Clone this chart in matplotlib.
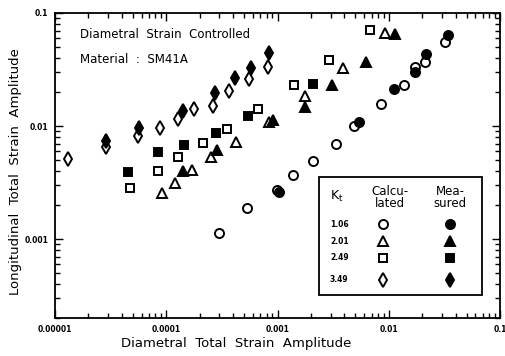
import matplotlib
matplotlib.use("Agg")
import matplotlib.pyplot as plt
from matplotlib.patches import Rectangle

# ---- data ----
kt_labels = ["1.06", "2.01", "2.49", "3.49"]

# Kt = 1.06 (circles)
c106_calc_x = [3.01e-4, 5.32e-4, 9.8e-4, 1.38e-3, 2.08e-3, 3.34e-3, 4.92e-3, 8.6e-3, 1.37e-2, 1.72e-2, 2.12e-2, 3.23e-2]
c106_calc_y = [1.13e-3, 1.88e-3, 2.72e-3, 3.68e-3, 4.90e-3, 6.93e-3, 1.0e-2, 1.57e-2, 2.32e-2, 3.30e-2, 3.65e-2, 5.51e-2]
c106_meas_x = [1.04e-3, 5.36e-3, 1.11e-2, 1.72e-2, 2.17e-2, 3.44e-2]
c106_meas_y = [2.61e-3, 1.09e-2, 2.14e-2, 3.03e-2, 4.31e-2, 6.37e-2]

# Kt = 2.01 (triangles)
c201_calc_x = [9.2e-5, 1.20e-4, 1.70e-4, 2.55e-4, 4.25e-4, 8.32e-4, 1.75e-3, 3.88e-3, 9.18e-3]
c201_calc_y = [2.55e-3, 3.13e-3, 4.08e-3, 5.3e-3, 7.22e-3, 1.09e-2, 1.85e-2, 3.23e-2, 6.63e-2]
c201_meas_x = [1.41e-4, 2.88e-4, 9.04e-4, 1.75e-3, 3.06e-3, 6.22e-3, 1.13e-2]
c201_meas_y = [4.0e-3, 6.14e-3, 1.13e-2, 1.48e-2, 2.32e-2, 3.65e-2, 6.49e-2]

# Kt = 2.49 (squares)
c249_calc_x = [4.76e-5, 8.5e-5, 1.28e-4, 2.12e-4, 3.54e-4, 6.65e-4, 1.41e-3, 2.93e-3, 6.79e-3]
c249_calc_y = [2.82e-3, 4.0e-3, 5.3e-3, 7.08e-3, 9.4e-3, 1.42e-2, 2.32e-2, 3.80e-2, 7.05e-2]
c249_meas_x = [4.49e-5, 8.5e-5, 1.44e-4, 2.82e-4, 5.43e-4, 2.08e-3]
c249_meas_y = [3.92e-3, 5.89e-3, 6.79e-3, 8.67e-3, 1.23e-2, 2.37e-2]

# Kt = 3.49 (diamonds)
c349_calc_x = [1.30e-5, 2.89e-5, 5.6e-5, 8.7e-5, 1.28e-4, 1.77e-4, 2.61e-4, 3.68e-4, 5.53e-4, 8.16e-4]
c349_calc_y = [5.1e-3, 6.5e-3, 8.2e-3, 9.6e-3, 1.155e-2, 1.42e-2, 1.51e-2, 2.05e-2, 2.63e-2, 3.30e-2]
c349_meas_x = [2.89e-5, 5.71e-5, 1.41e-4, 2.77e-4, 4.16e-4, 5.77e-4, 8.32e-4]
c349_meas_y = [7.37e-3, 9.6e-3, 1.36e-2, 1.97e-2, 2.68e-2, 3.23e-2, 4.40e-2]

x_ticks = [1e-5, 1e-4, 1e-3, 1e-2, 1e-1]
x_tick_labels = ["0.00001", "0.0001", "0.001", "0.01", "0.1"]
y_ticks = [1e-3, 1e-2, 1e-1]
y_tick_labels = ["0.001", "0.01", "0.1"]

series = [
    (c106_calc_x, c106_calc_y, c106_meas_x, c106_meas_y, "o", 6.5),
    (c201_calc_x, c201_calc_y, c201_meas_x, c201_meas_y, "^", 6.5),
    (c249_calc_x, c249_calc_y, c249_meas_x, c249_meas_y, "s", 6.2),
    (c349_calc_x, c349_calc_y, c349_meas_x, c349_meas_y, "d", 7.5),
]

fig = plt.figure(figsize=(5.06, 3.56), dpi=100)
ax = fig.add_axes([55/506, 38/356, 445/506, 305/356])
ax.set_xscale("log")
ax.set_yscale("log")
ax.set_xlim(1e-5, 1e-1)
ax.set_ylim(2e-4, 1e-1)

for cx, cy, mx, my, mk, ms in series:
    ax.plot(cx, cy, linestyle="none", marker=mk, markersize=ms,
            markerfacecolor="white", markeredgecolor="black", markeredgewidth=1.4, zorder=3)
    ax.plot(mx, my, linestyle="none", marker=mk, markersize=ms,
            markerfacecolor="black", markeredgecolor="black", markeredgewidth=1.4, zorder=4)

ax.set_xticks(x_ticks)
ax.set_xticklabels(x_tick_labels)
ax.set_yticks(y_ticks)
ax.set_yticklabels(y_tick_labels)
ax.tick_params(which="both", direction="in", top=True, right=True, width=1.0)
ax.tick_params(which="major", length=6, labelsize=5.5, pad=5)
ax.tick_params(which="minor", length=3.5)
for lab in ax.get_xticklabels() + ax.get_yticklabels():
    lab.set_fontweight("bold")
for s in ax.spines.values():
    s.set_linewidth(1.3)

ax.set_xlabel("Diametral  Total  Strain  Amplitude", fontsize=9.5)
ax.xaxis.set_label_coords(0.407, -0.062)
ax.set_ylabel("Longitudinal  Total  Strain  Amplitude", fontsize=9.5)
ax.yaxis.set_label_coords(-0.074, 0.48)

ax.text(0.056, 0.928, "Diametral  Strain  Controlled", transform=ax.transAxes,
        fontsize=8.5, va="center", ha="left")
ax.text(0.056, 0.846, "Material  :  SM41A", transform=ax.transAxes,
        fontsize=8.5, va="center", ha="left")

# ---- legend box (manual, like the original) ----
lx0, lx1, ly0, ly1 = 0.593, 0.960, 0.075, 0.462
ax.add_patch(Rectangle((lx0, ly0), lx1 - lx0, ly1 - ly0, transform=ax.transAxes,
                       fill=False, edgecolor="black", linewidth=1.3, zorder=5))
ax.text(0.634, 0.397, r"K$_\mathregular{t}$", transform=ax.transAxes, fontsize=9,
        ha="center", va="center")
ax.text(0.753, 0.395, "Calcu-\nlated", transform=ax.transAxes, fontsize=8.5,
        ha="center", va="center", linespacing=0.95)
ax.text(0.888, 0.395, "Mea-\nsured", transform=ax.transAxes, fontsize=8.5,
        ha="center", va="center", linespacing=0.95)
row_y = [0.308, 0.252, 0.197, 0.125]
for lab, ry, (cx, cy, mx, my, mk, ms) in zip(kt_labels, row_y, series):
    ax.text(0.618, ry, lab, transform=ax.transAxes, fontsize=5.5, fontweight="bold",
            ha="left", va="center")
    ax.plot([0.737], [ry], transform=ax.transAxes, linestyle="none", marker=mk,
            markersize=ms, markerfacecolor="white", markeredgecolor="black",
            markeredgewidth=1.4, clip_on=False, zorder=6)
    ax.plot([0.888], [ry], transform=ax.transAxes, linestyle="none", marker=mk,
            markersize=ms, markerfacecolor="black", markeredgecolor="black",
            markeredgewidth=1.4, clip_on=False, zorder=6)

fig.savefig("out.png", dpi=100)
